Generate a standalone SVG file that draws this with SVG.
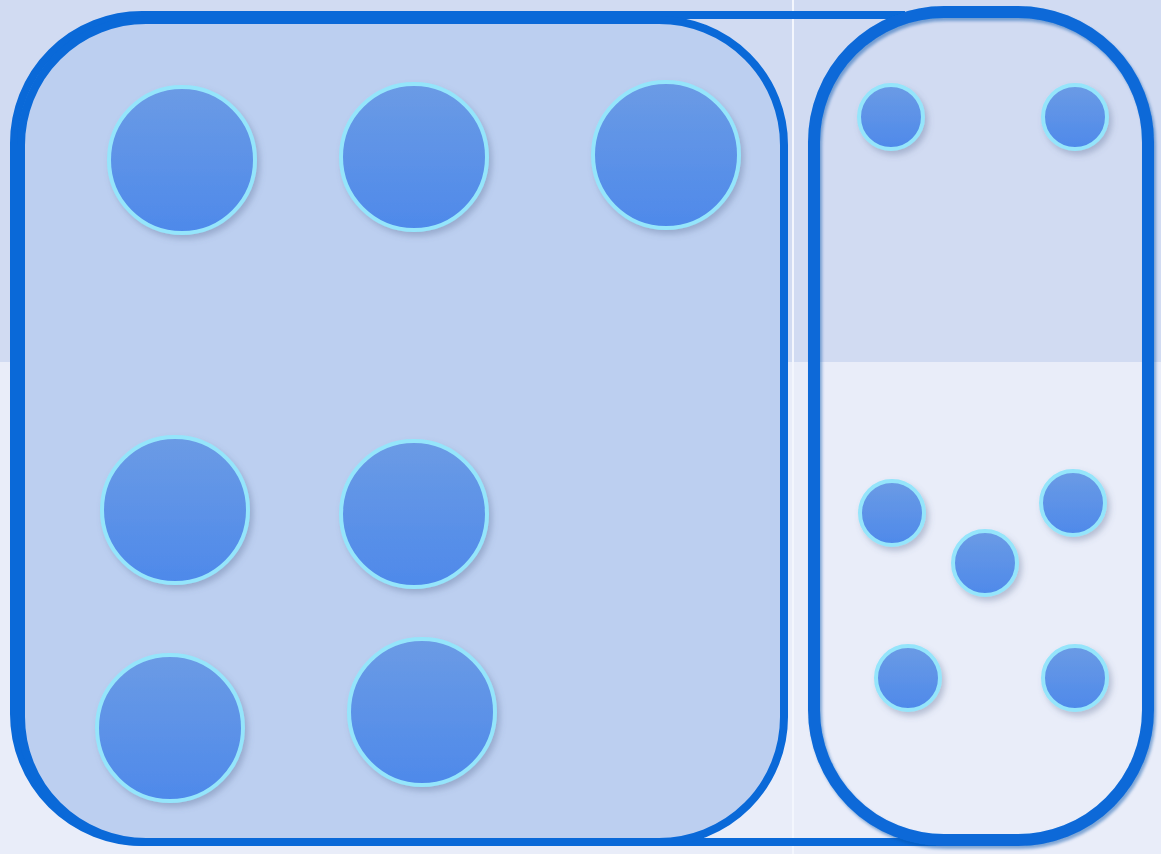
<svg xmlns="http://www.w3.org/2000/svg" width="1161" height="854" viewBox="0 0 1161 854">
<defs>
<linearGradient id="ballFill" x1="0" y1="0" x2="0" y2="1">
<stop offset="0" stop-color="#6b9be5"/>
<stop offset="1" stop-color="#4e89ea"/>
</linearGradient>
<filter id="ballShadow" x="-30%" y="-30%" width="170%" height="170%">
<feDropShadow dx="3" dy="4" stdDeviation="3" flood-color="#56688f" flood-opacity="0.35"/>
</filter>
<filter id="lineShadow" x="-10%" y="-10%" width="120%" height="120%">
<feDropShadow dx="2" dy="3" stdDeviation="1.5" flood-color="#0a4fa8" flood-opacity="0.45"/>
</filter>
<style>
.ball{fill:url(#ballFill);stroke:#95e5fb;stroke-width:4;filter:url(#ballShadow)}
.edge{stroke:#0a69d8;stroke-linejoin:round}
</style>
</defs>
<!-- background -->
<rect x="0" y="0" width="1161" height="362" fill="#d1dbf2"/>
<rect x="0" y="362" width="1161" height="492" fill="#e9edf9"/>
<rect x="792" y="0" width="2" height="854" fill="#f3f6fd"/>
<!-- outer frame -->
<g id="frame">
<path class="edge" fill="none" stroke-width="8" d="M 905 15 H 142 A 128 128 0 0 0 14 143 V 714 A 128 128 0 0 0 142 842 H 960"/>
</g>
<!-- left container -->
<g id="group-left">
<rect x="21" y="20" width="763" height="822" rx="125" ry="125" fill="#bccff0" class="edge" stroke-width="8"/>
</g>
<!-- right container -->
<g id="group-right">
<rect x="814" y="12" width="334" height="828" rx="130" ry="130" fill="none" class="edge" stroke-width="12" filter="url(#lineShadow)"/>
</g>
<g id="connectors"></g>
<!-- large nodes -->
<g id="node-L1"><circle class="ball" cx="182" cy="160" r="73"/></g>
<g id="node-L2"><circle class="ball" cx="414" cy="157" r="73"/></g>
<g id="node-L3"><circle class="ball" cx="666" cy="155" r="73"/></g>
<g id="node-L4"><circle class="ball" cx="175" cy="510" r="73"/></g>
<g id="node-L5"><circle class="ball" cx="414" cy="514" r="73"/></g>
<g id="node-L6"><circle class="ball" cx="170" cy="728" r="73"/></g>
<g id="node-L7"><circle class="ball" cx="422" cy="712" r="73"/></g>
<!-- small nodes -->
<g id="node-S1"><circle class="ball" cx="891" cy="117" r="32"/></g>
<g id="node-S2"><circle class="ball" cx="1075" cy="117" r="32"/></g>
<g id="node-S3"><circle class="ball" cx="892" cy="513" r="32"/></g>
<g id="node-S4"><circle class="ball" cx="1073" cy="503" r="32"/></g>
<g id="node-S5"><circle class="ball" cx="985" cy="563" r="32"/></g>
<g id="node-S6"><circle class="ball" cx="908" cy="678" r="32"/></g>
<g id="node-S7"><circle class="ball" cx="1075" cy="678" r="32"/></g>
</svg>
